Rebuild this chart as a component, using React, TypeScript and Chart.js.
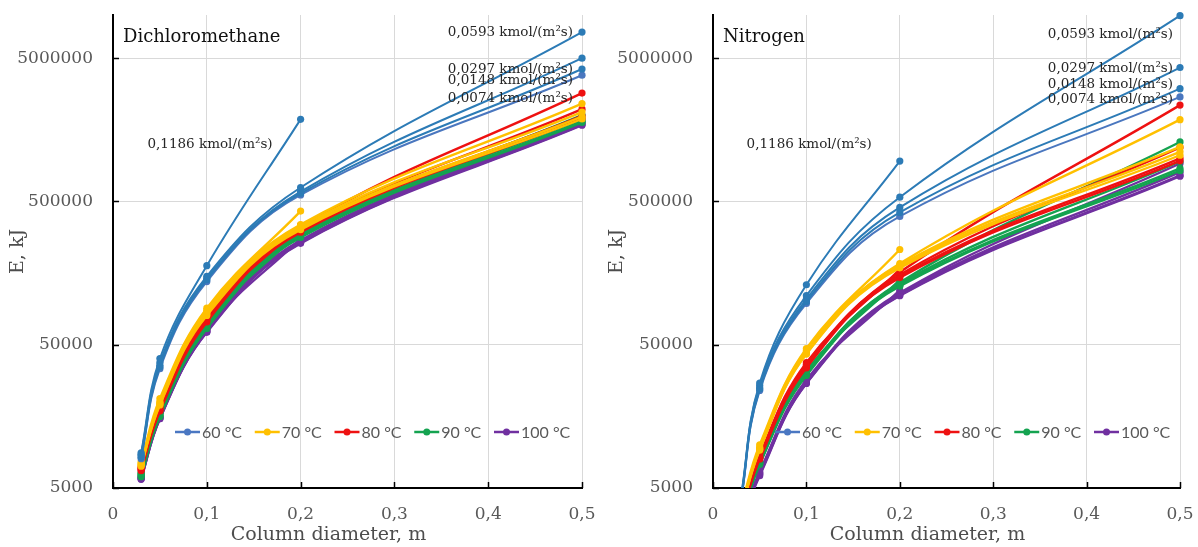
import React, { useEffect, useRef } from 'react';
import { Chart, registerables } from 'chart.js';

Chart.register(...registerables);

// ---------- data ----------
const diameters = [0.03, 0.05, 0.1, 0.2, 0.5];
const temperatures = ['60 °C', '70 °C', '80 °C', '90 °C', '100 °C'];
const flowLabels = [
  '0,1186 kmol/(m²s)',
  '0,0593 kmol/(m²s)',
  '0,0297 kmol/(m²s)',
  '0,0148 kmol/(m²s)',
  '0,0074 kmol/(m²s)',
];
const xTicks = [0, 0.1, 0.2, 0.3, 0.4, 0.5];
const yTicks = [5000, 50000, 500000, 5000000];
const xTitle = 'Column diameter, m';
const yTitle = 'E, kJ';

// Dichloromethane – rows: 0,1186 / 0,0593 / 0,0297 / 0,0148 / 0,0074 kmol/(m²s)
const dcm60 = [
  [8800, 40000, 178000, 1870000],
  [8600, 37500, 150000, 625000, 7600000],
  [8400, 36000, 145000, 585000, 5000000],
  [8200, 35000, 142000, 570000, 4200000],
  [8000, 34000, 138000, 555000, 3800000],
];
const dcm70 = [
  [7600, 21000, 90000, 428000],
  [7400, 20000, 87000, 345000, 2410000],
  [7300, 19600, 84000, 335000, 2100000],
  [7200, 19300, 82000, 325000, 1950000],
  [7100, 19000, 80000, 318000, 1880000],
];
const dcm80 = [
  [7000, 18500, 80000, 340000],
  [6900, 18100, 78500, 330000, 2850000],
  [6800, 17800, 76000, 318000, 2200000],
  [6700, 17500, 74000, 310000, 1980000],
  [6600, 17200, 72000, 305000, 1900000],
];
const dcm90 = [
  [6400, 17000, 72000, 310000],
  [6300, 16600, 70000, 300000, 2000000],
  [6200, 16300, 68000, 292000, 1880000],
  [6100, 16000, 66000, 285000, 1820000],
  [6000, 15800, 65000, 280000, 1780000],
];
const dcm100 = [
  [6000, 15800, 64000, 275000],
  [5900, 15600, 63000, 268000, 1800000],
  [5850, 15400, 62000, 262000, 1750000],
  [5800, 15300, 61600, 258000, 1720000],
  [5750, 15200, 61000, 255000, 1700000],
];

// Nitrogen
const n60 = [
  [4400, 27000, 131000, 956000],
  [4300, 26000, 110000, 535000, 9900000],
  [4200, 25000, 104000, 454000, 4300000],
  [4150, 24500, 100000, 419000, 3060000],
  [4100, 24000, 97000, 393000, 2680000],
];
const n70 = [
  [3700, 10000, 47000, 231000],
  [3600, 9600, 45500, 184000, 1860000],
  [3550, 9400, 44500, 180000, 1200000],
  [3500, 9300, 43500, 176000, 1110000],
  [3450, 9200, 43000, 172000, 1050000],
];
const n80 = [
  [3350, 8500, 37500, 168000],
  [3300, 8250, 36500, 160000, 2350000],
  [3250, 8150, 35600, 154000, 1190000],
  [3200, 8050, 35000, 150000, 1000000],
  [3150, 7950, 34500, 147000, 960000],
];
const n90 = [
  [3150, 7700, 33000, 142000],
  [3100, 7600, 32000, 136000, 1300000],
  [3050, 7500, 31500, 133000, 950000],
  [3000, 7400, 31000, 130000, 850000],
  [2950, 7300, 30500, 128000, 820000],
];
const n100 = [
  [3000, 6500, 28500, 120000],
  [2950, 6400, 27600, 115000, 920000],
  [2900, 6300, 27300, 113000, 800000],
  [2850, 6200, 27000, 111000, 760000],
  [2800, 6100, 26800, 110000, 750000],
];

// ---------- styles ----------
const tempColors = ['#2C7BB6', '#FFC000', '#EE1111', '#14A350', '#7030A0'];
const legendColors = ['#4A77C2', '#FFC000', '#EE1111', '#14A350', '#7030A0'];
const blueLight = '#4A77BF';
const SERIF = 'DejaVu Serif';

// label offsets (px) relative to the last point of each 60 °C series
const dcmLabelOffsets = [[-28, 25], [-9, 0], [-9, 11], [-9, 12], [-9, 23]];
const n2LabelOffsets = [[-28, -17], [-7, 19], [-7, 1], [-7, -4], [-7, 3]];

const panels = [
  { title: 'Dichloromethane', series: [dcm60, dcm70, dcm80, dcm90, dcm100], offsets: dcmLabelOffsets, left: 113, right: 17 },
  { title: 'Nitrogen', series: [n60, n70, n80, n90, n100], offsets: n2LabelOffsets, left: 114, right: 18 },
];

const W = 599;
const H = 547;
const BOTTOM = 488;
const TOP = 15;

const decorPlugin = {
  id: 'decor',
  afterDraw(chart: any) {
    const { ctx, chartArea, scales } = chart;
    const opts = chart.options.plugins.decor;
    ctx.save();
    // inner tick marks
    ctx.strokeStyle = '#000';
    ctx.lineWidth = 1.5;
    yTicks.forEach((v) => {
      const y = Math.round(scales.y.getPixelForValue(v)) + 0.5;
      ctx.beginPath();
      ctx.moveTo(chartArea.left, y);
      ctx.lineTo(chartArea.left + 6, y);
      ctx.stroke();
    });
    xTicks.forEach((v) => {
      const x = Math.round(scales.x.getPixelForValue(v)) + 0.5;
      ctx.beginPath();
      ctx.moveTo(x, chartArea.bottom);
      ctx.lineTo(x, chartArea.bottom - 6);
      ctx.stroke();
    });

    // x axis title (slightly left of centre, as in the original)
    ctx.font = `19px "${SERIF}"`;
    ctx.fillStyle = '#4D4D4D';
    ctx.textAlign = 'center';
    ctx.textBaseline = 'middle';
    ctx.fillText(xTitle, (chartArea.left + chartArea.right) / 2 - 19, 535);

    // panel title
    ctx.font = `18px "${SERIF}"`;
    ctx.fillStyle = '#111';
    ctx.textAlign = 'left';
    ctx.fillText(opts.title, chartArea.left + 10, chartArea.top + 22);

    // flow-rate data labels on 60 °C series
    ctx.font = `13.5px "${SERIF}"`;
    ctx.fillStyle = '#262626';
    ctx.textAlign = 'right';
    chart.data.datasets.forEach((ds: any, i: number) => {
      if (ds.flowIndex === undefined || !ds.showFlowLabel) return;
      const meta = chart.getDatasetMeta(i);
      const pt = meta.data[meta.data.length - 1];
      if (!pt) return;
      const [dx, dy] = opts.offsets[ds.flowIndex];
      ctx.fillText(flowLabels[ds.flowIndex], pt.x + dx, pt.y + dy);
    });

    // legend inside the plot area
    ctx.font = `16px Lato`;
    ctx.textAlign = 'left';
    const ly = chartArea.bottom - 56;
    temperatures.forEach((t, i) => {
      const tx = chartArea.left + 89 + i * 79.75;
      ctx.strokeStyle = legendColors[i];
      ctx.lineWidth = 2.5;
      ctx.beginPath();
      ctx.moveTo(tx - 27, ly);
      ctx.lineTo(tx - 2, ly);
      ctx.stroke();
      ctx.fillStyle = legendColors[i];
      ctx.beginPath();
      ctx.arc(tx - 14.5, ly, 3.5, 0, Math.PI * 2);
      ctx.fill();
      ctx.fillStyle = '#595959';
      ctx.fillText(t, tx, ly + 1);
    });
    ctx.restore();
  },
};

function buildDatasets(series: number[][][]) {
  const out: any[] = [];
  series.forEach((rows, ti) => {
    rows.forEach((vals, fi) => {
      let color = tempColors[ti];
      if (ti === 0 && fi === 4) color = blueLight;
      out.push({
        label: `${temperatures[ti]} ${flowLabels[fi]}`,
        data: vals.map((v, k) => ({ x: diameters[k], y: v })),
        borderColor: color,
        backgroundColor: color,
        pointBackgroundColor: color,
        pointBorderWidth: 0,
        pointRadius: 3.6,
        borderWidth: ti === 0 ? 2 : 2.4,
        tension: 0.4,
        clip: { left: 10, right: 10, top: 10, bottom: 0 },
        flowIndex: fi,
        showFlowLabel: ti === 0,
      });
    });
  });
  return out;
}

function zeroPadding(s: any) {
  s.paddingTop = 0;
  s.paddingBottom = 0;
  s.paddingLeft = 0;
  s.paddingRight = 0;
}

function Panel({ idx }: { idx: number }) {
  const ref = useRef<HTMLCanvasElement>(null);
  useEffect(() => {
    const p = panels[idx];
    const chart = new Chart(ref.current as HTMLCanvasElement, {
      type: 'line',
      data: { datasets: buildDatasets(p.series) },
      plugins: [decorPlugin],
      options: {
        responsive: false,
        animation: false,
        devicePixelRatio: 1,
        layout: { padding: { top: TOP, right: p.right, left: 0, bottom: 0 } },
        elements: { line: { capBezierPoints: false } },
        plugins: {
          legend: { display: false },
          tooltip: { enabled: false },
          decor: { title: p.title, offsets: p.offsets },
        } as any,
        scales: {
          x: {
            type: 'linear',
            min: 0,
            max: 0.5,
            afterBuildTicks: (s: any) => {
              s.ticks = xTicks.map((value) => ({ value }));
            },
            afterFit: (s: any) => {
              s.height = H - BOTTOM;
              zeroPadding(s);
            },
            ticks: {
              padding: 16,
              color: '#595959',
              font: { family: SERIF, size: 17 },
              maxRotation: 0,
              autoSkip: false,
              callback: (v: any) => (Number(v) === 0 ? '0' : Number(v).toFixed(1).replace('.', ',')),
            },
            grid: { color: '#D9D9D9', lineWidth: 1, drawTicks: false },
            border: { color: '#000', width: 2 },
            title: { display: false },
          },
          y: {
            type: 'logarithmic',
            min: 5000,
            max: 10000000,
            afterBuildTicks: (s: any) => {
              s.ticks = yTicks.map((value) => ({ value }));
            },
            afterFit: (s: any) => {
              s.width = p.left;
              zeroPadding(s);
            },
            ticks: {
              padding: 20,
              color: '#595959',
              font: { family: SERIF, size: 17 },
              autoSkip: false,
              callback: (v: any) => String(v),
            },
            grid: { color: '#D9D9D9', lineWidth: 1, drawTicks: false },
            border: { color: '#000', width: 2 },
            title: {
              display: true,
              text: yTitle,
              color: '#4D4D4D',
              font: { family: SERIF, size: 19, lineHeight: 1.2 },
              padding: { top: 7, bottom: 0 },
            },
          },
        },
      } as any,
    });
    return () => chart.destroy();
  }, [idx]);
  return <canvas ref={ref} width={W} height={H} style={{ width: W, height: H, display: 'block' }} />;
}

export default function App() {
  return (
    <div style={{ position: 'fixed', left: 0, top: 0, width: 1198, height: 547, display: 'flex', background: '#fff' }}>
      <Panel idx={0} />
      <Panel idx={1} />
    </div>
  );
}
